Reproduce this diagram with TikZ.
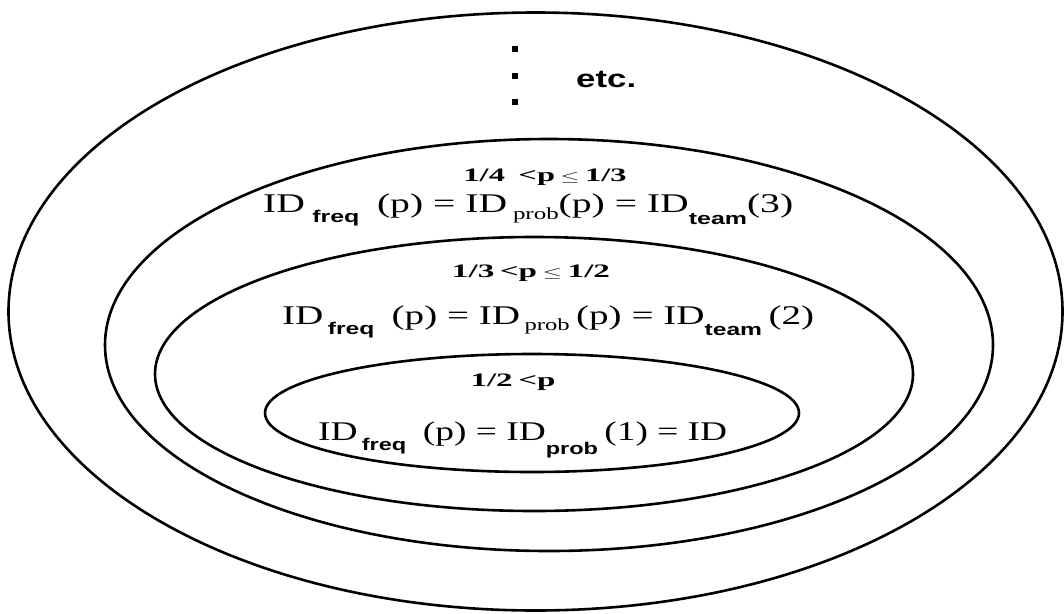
\documentclass[tikz,border=0pt]{standalone}
\usepackage{fontspec}
\usepackage{graphicx}
\setmainfont{Liberation Serif}
\newfontfamily\subsans{Liberation Sans}
\newcommand\fitw[2]{\resizebox{#1}{\height}{#2}}
\newcommand\mainsz{\fontsize{27}{27}\selectfont}
\newcommand\subsz{\fontsize{17}{17}\selectfont}
\newcommand\sfsub[2]{\raisebox{#1}{\subsz\subsans\bfseries #2}}
\newcommand\rmsub[2]{\raisebox{#1}{\subsz #2}}
\newcommand\lblsz{\fontsize{19}{19}\selectfont\bfseries}
\begin{document}
\begin{tikzpicture}[x=1pt,y=-1pt]
\tikzset{
  ring/.style={draw=black, line width=2.6pt},
  dotmark/.style={rectangle, fill=black, inner sep=0pt, minimum size=5.5pt},
  lbl/.style={inner sep=0pt, anchor=base},
  formula/.style={inner sep=0pt, anchor=base west}
}
\useasboundingbox (0,0) rectangle (1064,613);
\fill[white] (0,0) rectangle (1064,613);
% ellipses
\draw[ring] (535.5,311.5) ellipse [x radius=527, y radius=299];
\draw[ring] (549,345) ellipse [x radius=444, y radius=206];
\draw[ring] (534,374) ellipse [x radius=379, y radius=137];
\draw[ring] (532,413) ellipse [x radius=267, y radius=59];
% dots and etc.
\node[dotmark] (d1) at (515,49) {};
\node[dotmark] (d2) at (515,76) {};
\node[dotmark] (d3) at (515,102) {};
\node[inner sep=0pt, anchor=base west] (etc) at (576,87) {\fitw{60pt}{\fontsize{25}{25}\selectfont\subsans\bfseries etc.}};
% level 3
\node[lbl] (l3) at (545,181) {\fitw{163pt}{\lblsz 1/4 \,<p\,{\fontsize{15}{15}\selectfont$\leq$}\,1/3}};
\node[formula] (f3) at (263,212) {\fitw{530pt}{\mainsz ID\hspace{5pt}\sfsub{-10pt}{freq}\hspace{12pt}(p) = ID\hspace{4pt}\rmsub{-7pt}{prob}(p) = ID\sfsub{-12pt}{team}(3)}};
% level 2
\node[lbl] (l2) at (531,277) {\fitw{158pt}{\lblsz 1/3\,<p\,{\fontsize{15}{15}\selectfont$\leq$}\,1/2}};
\node[formula] (f2) at (282,324) {\fitw{532pt}{\mainsz ID\hspace{3pt}\sfsub{-10pt}{freq}\hspace{12pt}(p) = ID\hspace{3pt}\rmsub{-6pt}{prob}\,(p) = ID\sfsub{-11pt}{team}\,(2)}};
% level 1
\node[lbl] (l1) at (513,386) {\fitw{85pt}{\lblsz 1/2\,<p}};
\node[formula] (f1) at (318,440) {\fitw{409pt}{\mainsz ID\hspace{3pt}\sfsub{-10pt}{freq}\hspace{12pt}(p) = ID\sfsub{-14pt}{prob}\,(1) = ID}};
\end{tikzpicture}
\end{document}
